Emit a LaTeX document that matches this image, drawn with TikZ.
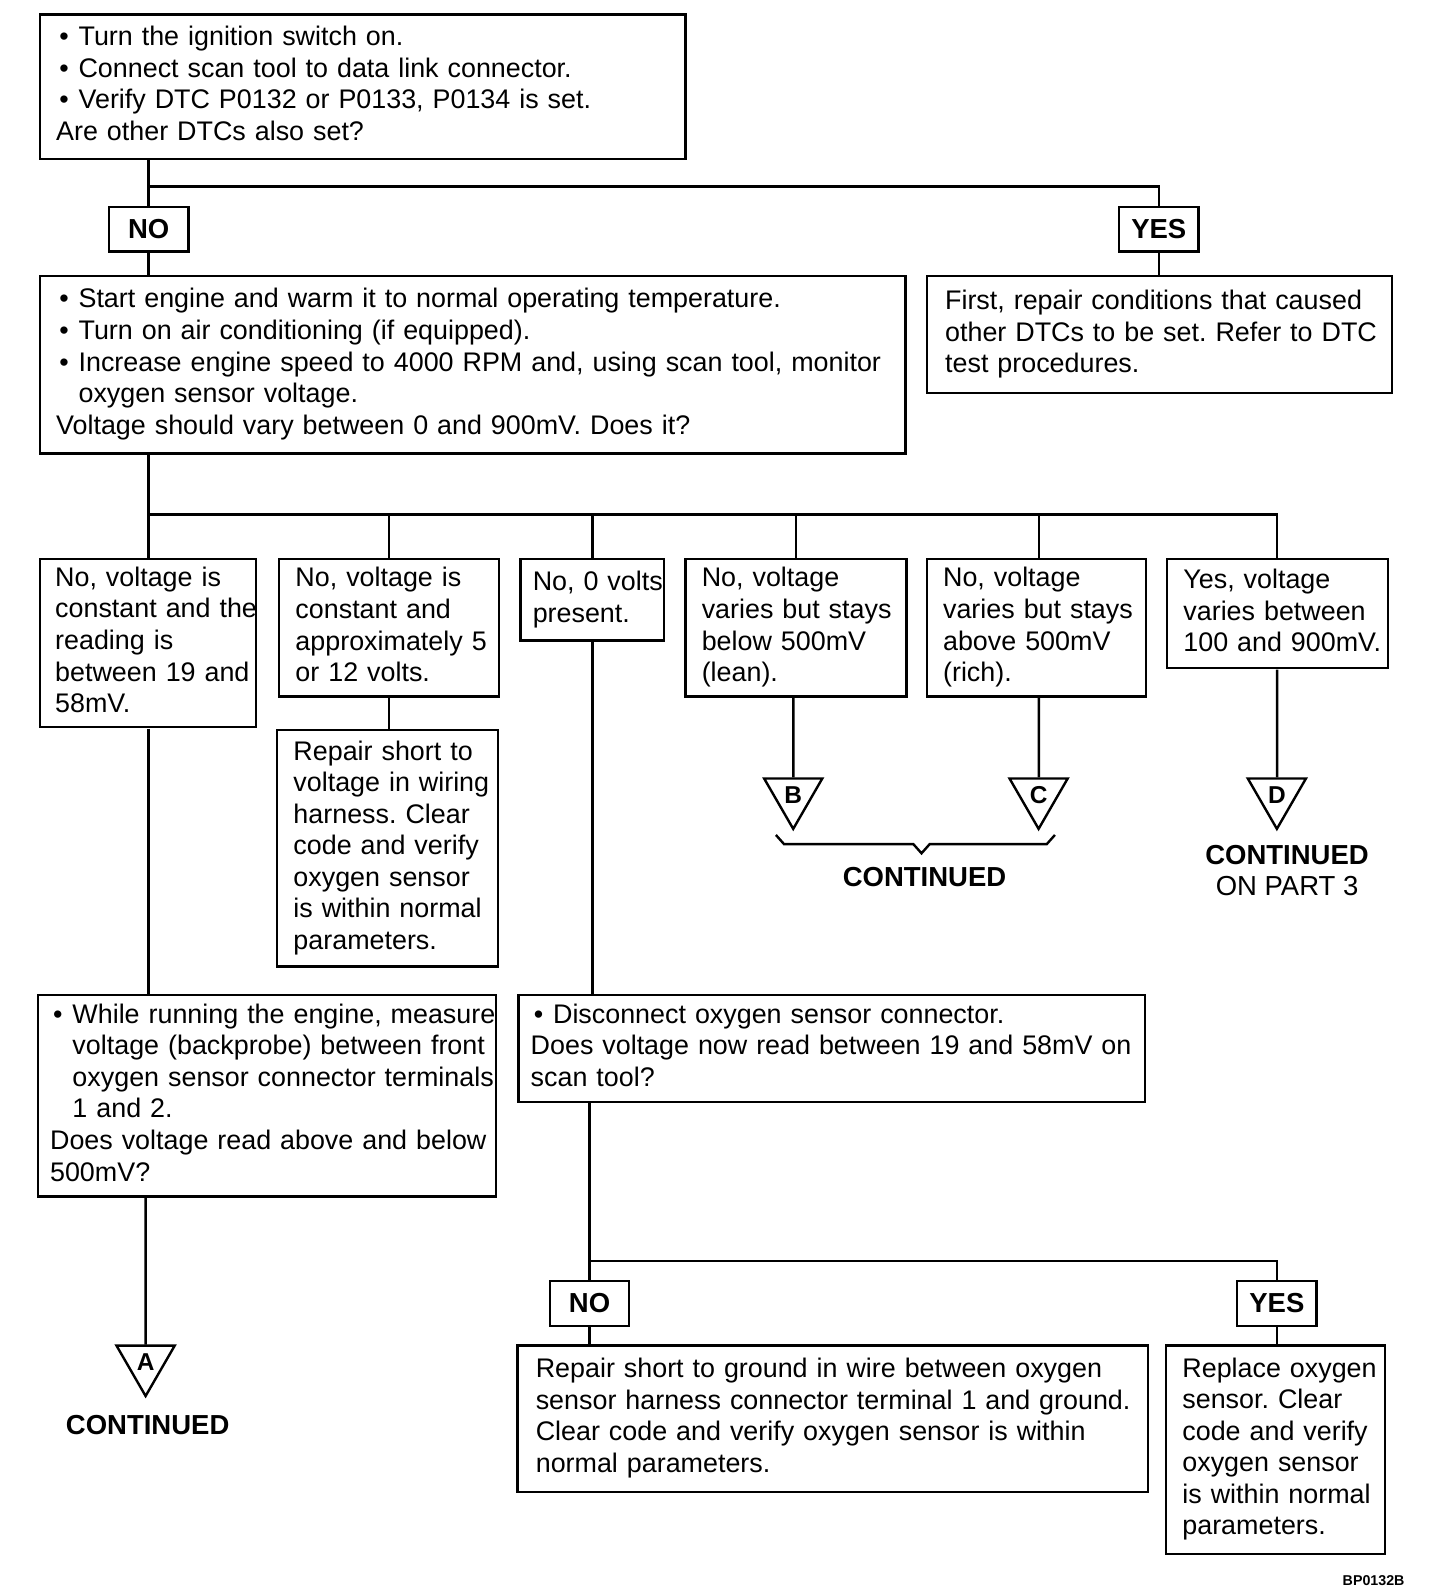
\documentclass[tikz,border=0pt]{standalone}
\usepackage{fontspec}
\setmainfont{Liberation Sans}
\usetikzlibrary{shapes.geometric, positioning}

\newcommand{\bl}{\makebox[11pt][l]{\hspace{1.5pt}\textbullet}}
\newcommand{\ind}{\hspace*{11pt}}
\newcommand{\rows}[1]{\begin{tabular}{@{}l@{}}#1\end{tabular}}

\tikzset{
  box/.style = {draw, line width=1.2pt, anchor=north west, align=left, inner xsep=8pt, inner ysep=0pt,
                font=\fontsize{13.2}{15.5}\selectfont\frenchspacing},
  answer/.style = {draw, line width=1.2pt, minimum width=39pt, minimum height=22pt, inner sep=0pt,
                font=\fontsize{13.5}{16}\selectfont\bfseries},
  tri/.style = {draw, line width=1.2pt, regular polygon, regular polygon sides=3, regular polygon rotate=180,
                minimum size=33pt, inner sep=0pt, font=\fontsize{12}{12}\selectfont\bfseries},
  cont/.style = {align=center, font=\fontsize{13.5}{15}\selectfont\bfseries},
}

\begin{document}
\begin{tikzpicture}[x=0.5pt, y=-0.5pt, scale=1.0183, transform shape, line width=1.2pt]
    % boxes
    \node[box, text width=301pt, minimum height=71pt] (b1) at (38,13)
        {\rows{\bl Turn the ignition switch on.\\
         \bl Connect scan tool to data link connector.\\
         \bl Verify DTC P0132 or P0133, P0134 is set.\\
         Are other DTCs also set?}};
    \node[answer] (noA) at (146,225) {NO};
    \node[answer] (yesA) at (1138,225) {YES};
    \node[box, text width=409pt, minimum height=87pt] (b2) at (38,270)
        {\rows{\bl Start engine and warm it to normal operating temperature.\\
         \bl Turn on air conditioning (if equipped).\\
         \bl Increase engine speed to 4000 RPM and, using scan tool, monitor\\
         \ind oxygen sensor voltage.\\
         Voltage should vary between 0 and 900mV. Does it?}};
    \node[box, text width=210.5pt, inner xsep=9pt, minimum height=57.5pt] (b3) at (909,270)
        {\rows{First, repair conditions that caused\\other DTCs to be set. Refer to DTC\\test procedures.}};
    \node[box, text width=91pt, inner xsep=7.5pt, minimum height=82.5pt] (a1) at (38,548)
        {\rows{No, voltage is\\constant and the\\reading is\\between 19 and\\58mV.}};
    \node[box, text width=92pt, minimum height=67.5pt] (a2) at (273,548)
        {\rows{No, voltage is\\constant and\\approximately 5\\or 12 volts.}};
    \node[box, text width=58.5pt, inner xsep=6pt, minimum height=40pt] (a3) at (510,548)
        {\rows{No, 0 volts\\present.}};
    \node[box, text width=92.5pt, minimum height=67.5pt] (a4) at (672,548)
        {\rows{No, voltage\\varies but stays\\below 500mV\\(lean).}};
    \node[box, text width=91.5pt, minimum height=67.5pt] (a5) at (909,548)
        {\rows{No, voltage\\varies but stays\\above 500mV\\(rich).}};
    \node[box, text width=92.5pt, minimum height=53.5pt] (a6) at (1145,548)
        {\rows{Yes, voltage\\varies between\\100 and 900mV.}};
    \node[box, text width=92.5pt, minimum height=116pt] (rep) at (271,716)
        {\rows{Repair short to\\voltage in wiring\\harness. Clear\\code and verify\\oxygen sensor\\is within normal\\parameters.}};
    \node[box, text width=213pt, inner xsep=6pt, minimum height=99pt] (whl) at (36,976)
        {\rows{\bl While running the engine, measure\\
         \ind voltage (backprobe) between front\\
         \ind oxygen sensor connector terminals\\
         \ind 1 and 2.\\
         Does voltage read above and below\\500mV?}};
    \node[box, text width=295.5pt, inner xsep=6pt, minimum height=52.5pt] (dis) at (508,976)
        {\rows{\bl Disconnect oxygen sensor connector.\\
         Does voltage now read between 19 and 58mV on\\scan tool?}};
    \node[answer] (noB) at (579,1280) {NO};
    \node[answer] (yesB) at (1254,1280) {YES};
    \node[box, text width=291.5pt, inner xsep=9pt, minimum height=72pt] (gnd) at (507,1320)
        {\rows{Repair short to ground in wire between oxygen\\sensor harness connector terminal 1 and ground.\\Clear code and verify oxygen sensor is within\\normal parameters.}};
    \node[box, text width=91.5pt, minimum height=102.5pt] (rpl) at (1144,1320)
        {\rows{Replace oxygen\\sensor. Clear\\code and verify\\oxygen sensor\\is within normal\\parameters.}};
    % off-page markers
    \node[tri] (tA) at (143,1338) {A};
    \node[tri] (tB) at (779,781) {B};
    \node[tri] (tC) at (1020,781) {C};
    \node[tri] (tD) at (1254,781) {D};
    \node[cont] (cA) at (145,1399) {CONTINUED};
    \node[cont] (cBC) at (908,861) {CONTINUED};
    \node[cont] (cD) at (1264,855) {CONTINUED\\\mdseries ON PART 3};
    \node[font=\fontsize{7}{7}\selectfont\bfseries] (code) at (1349,1552) {BP0132B};
    % connectors
    \coordinate (j1) at (146,183);
    \draw (b1.south -| j1) -- (noA.north);
    \draw (j1) -| (yesA.north);
    \draw (noA.south) -- (noA.south |- b2.north);
    \draw (yesA.south) -- (yesA.south |- b3.north);
    \coordinate (j2) at (146,505);
    \draw (b2.south -| j2) -- (j2 |- a1.north);
    \draw (j2) -| (tD |- a6.north);
    \foreach \n in {a2,a3,a4} \draw (j2 -| \n.north) -- (\n.north);
    \draw (j2 -| tC) -- (tC |- a5.north);
    \draw (a1.south -| j2) -- (j2 |- whl.north);
    \draw (a2.south) -- (a2.south |- rep.north);
    \draw (a3.south) -- (a3.south |- dis.north);
    \draw (tB |- a4.south) -- (tB.north);
    \draw (tC |- a5.south) -- (tC.north);
    \draw (tD |- a6.south) -- (tD.north);
    \draw (tA |- whl.south) -- (tA.north);
    \coordinate (j3) at (579,1238);
    \draw (j3 |- dis.south) -- (noB.north);
    \draw (j3) -| (yesB.north);
    \draw (noB.south) -- (noB.south |- gnd.north);
    \draw (yesB.south) -- (yesB.south |- rpl.north);
    % brace under B and C
    \draw (762,820) -- (770,829) -- (897,829) -- (905,838) -- (913,829) -- (1028,829) -- (1036,820);
    \pgfresetboundingbox
    \useasboundingbox (0,0) rectangle (1414.2,1567.4); %page size
\end{tikzpicture}
\end{document}
